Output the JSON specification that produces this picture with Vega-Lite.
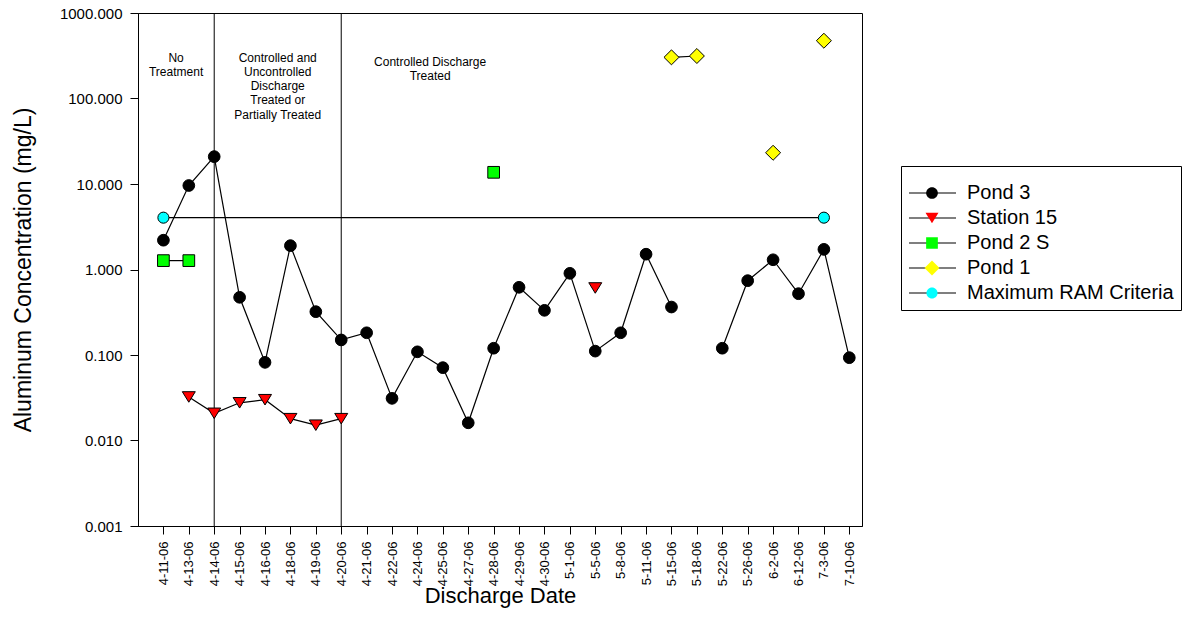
{
  "$schema": "https://vega.github.io/schema/vega-lite/v6.json",
  "width": 724,
  "height": 513,
  "autosize": {"type": "none"},
  "padding": {"left": 138, "top": 13, "right": 322, "bottom": 113},
  "background": "white",
  "config": {
    "font": "Liberation Sans",
    "view": {"stroke": "black", "strokeWidth": 1},
    "axis": {
      "grid": false,
      "domainColor": "black",
      "tickColor": "black",
      "labelColor": "black",
      "titleColor": "black",
      "titleFontWeight": "normal",
      "labelFont": "Liberation Sans",
      "titleFont": "Liberation Sans",
      "tickSize": 8
    },
    "legend": {
      "orient": "none",
      "legendX": 763,
      "legendY": 153,
      "strokeColor": "black",
      "fillColor": "transparent",
      "padding": 7,
      "labelFont": "Liberation Sans",
      "labelFontSize": 20,
      "labelColor": "black",
      "labelLimit": 400,
      "rowPadding": 5,
      "symbolSize": 137,
      "symbolStrokeColor": "black",
      "symbolStrokeWidth": 1,
      "symbolOffset": 14,
      "labelOffset": 25,
      "titleFontSize": 10,
      "titlePadding": 0,
      "clipHeight": 20
    }
  },
  "datasets": {
    "obs": [
      {"date": "4-11-06", "series": "Pond 3", "seg": "P3a", "value": 2.2},
      {"date": "4-13-06", "series": "Pond 3", "seg": "P3a", "value": 9.6},
      {"date": "4-14-06", "series": "Pond 3", "seg": "P3a", "value": 20.9},
      {"date": "4-15-06", "series": "Pond 3", "seg": "P3a", "value": 0.473},
      {"date": "4-16-06", "series": "Pond 3", "seg": "P3a", "value": 0.082},
      {"date": "4-18-06", "series": "Pond 3", "seg": "P3a", "value": 1.9},
      {"date": "4-19-06", "series": "Pond 3", "seg": "P3a", "value": 0.321},
      {"date": "4-20-06", "series": "Pond 3", "seg": "P3a", "value": 0.15},
      {"date": "4-21-06", "series": "Pond 3", "seg": "P3a", "value": 0.182},
      {"date": "4-22-06", "series": "Pond 3", "seg": "P3a", "value": 0.0311},
      {"date": "4-24-06", "series": "Pond 3", "seg": "P3a", "value": 0.109},
      {"date": "4-25-06", "series": "Pond 3", "seg": "P3a", "value": 0.0711},
      {"date": "4-27-06", "series": "Pond 3", "seg": "P3a", "value": 0.0161},
      {"date": "4-28-06", "series": "Pond 3", "seg": "P3a", "value": 0.12},
      {"date": "4-29-06", "series": "Pond 3", "seg": "P3a", "value": 0.619},
      {"date": "4-30-06", "series": "Pond 3", "seg": "P3a", "value": 0.333},
      {"date": "5-1-06", "series": "Pond 3", "seg": "P3a", "value": 0.902},
      {"date": "5-5-06", "series": "Pond 3", "seg": "P3a", "value": 0.111},
      {"date": "5-8-06", "series": "Pond 3", "seg": "P3a", "value": 0.182},
      {"date": "5-11-06", "series": "Pond 3", "seg": "P3a", "value": 1.51},
      {"date": "5-15-06", "series": "Pond 3", "seg": "P3a", "value": 0.364},
      {"date": "5-22-06", "series": "Pond 3", "seg": "P3b", "value": 0.12},
      {"date": "5-26-06", "series": "Pond 3", "seg": "P3b", "value": 0.74},
      {"date": "6-2-06", "series": "Pond 3", "seg": "P3b", "value": 1.3},
      {"date": "6-12-06", "series": "Pond 3", "seg": "P3b", "value": 0.521},
      {"date": "7-3-06", "series": "Pond 3", "seg": "P3b", "value": 1.72},
      {"date": "7-10-06", "series": "Pond 3", "seg": "P3b", "value": 0.093},
      {"date": "4-13-06", "series": "Station 15", "seg": "S15a", "value": 0.0323},
      {"date": "4-14-06", "series": "Station 15", "seg": "S15a", "value": 0.0208},
      {"date": "4-15-06", "series": "Station 15", "seg": "S15a", "value": 0.0276},
      {"date": "4-16-06", "series": "Station 15", "seg": "S15a", "value": 0.030},
      {"date": "4-18-06", "series": "Station 15", "seg": "S15a", "value": 0.018},
      {"date": "4-19-06", "series": "Station 15", "seg": "S15a", "value": 0.0151},
      {"date": "4-20-06", "series": "Station 15", "seg": "S15a", "value": 0.018},
      {"date": "5-5-06", "series": "Station 15", "seg": "S15b", "value": 0.608},
      {"date": "4-11-06", "series": "Pond 2 S", "seg": "P2a", "value": 1.27},
      {"date": "4-13-06", "series": "Pond 2 S", "seg": "P2a", "value": 1.27},
      {"date": "4-28-06", "series": "Pond 2 S", "seg": "P2b", "value": 13.7},
      {"date": "5-15-06", "series": "Pond 1", "seg": "P1a", "value": 303},
      {"date": "5-18-06", "series": "Pond 1", "seg": "P1a", "value": 314},
      {"date": "6-2-06", "series": "Pond 1", "seg": "P1b", "value": 23.2},
      {"date": "7-3-06", "series": "Pond 1", "seg": "P1c", "value": 474},
      {"date": "4-11-06", "series": "Maximum RAM Criteria", "seg": "RAM", "value": 4.04},
      {"date": "7-3-06", "series": "Maximum RAM Criteria", "seg": "RAM", "value": 4.04}
    ],
    "dividers": [
      {"date": "4-14-06"},
      {"date": "4-20-06"}
    ],
    "notes": [
      {"date": "4-11-06", "value": 345, "label": ["No", "Treatment"]},
      {"date": "4-16-06", "value": 345, "label": ["Controlled and", "Uncontrolled", "Discharge", "Treated or", "Partially Treated"]},
      {"date": "4-24-06", "value": 306, "label": ["Controlled Discharge", "Treated"]}
    ]
  },
  "layer": [
    {
      "data": {"name": "dividers"},
      "mark": {"type": "rule", "color": "black", "strokeWidth": 1},
      "encoding": {
        "x": {
          "field": "date",
          "type": "nominal",
          "sort": ["4-11-06","4-13-06","4-14-06","4-15-06","4-16-06","4-18-06","4-19-06","4-20-06","4-21-06","4-22-06","4-24-06","4-25-06","4-27-06","4-28-06","4-29-06","4-30-06","5-1-06","5-5-06","5-8-06","5-11-06","5-15-06","5-18-06","5-22-06","5-26-06","6-2-06","6-12-06","7-3-06","7-10-06"],
          "scale": {
            "type": "point",
            "domain": ["4-11-06","4-13-06","4-14-06","4-15-06","4-16-06","4-18-06","4-19-06","4-20-06","4-21-06","4-22-06","4-24-06","4-25-06","4-27-06","4-28-06","4-29-06","4-30-06","5-1-06","5-5-06","5-8-06","5-11-06","5-15-06","5-18-06","5-22-06","5-26-06","6-2-06","6-12-06","7-3-06","7-10-06"],
            "padding": 0.75,
            "align": 0.6667
          },
          "axis": {
            "title": "Discharge Date",
            "titleFontSize": 22,
            "titleY": 69,
            "titleBaseline": "middle",
            "labelAngle": -90,
            "labelFontSize": 13,
            "labelPadding": 7
          }
        }
      }
    },
    {
      "data": {"name": "notes"},
      "mark": {"type": "text", "dx": 12.7, "baseline": "top", "align": "center", "fontSize": 12, "lineHeight": 14.3, "color": "black", "font": "Liberation Sans"},
      "encoding": {
        "x": {"field": "date", "type": "nominal"},
        "y": {"field": "value", "type": "quantitative"},
        "text": {"field": "label"}
      }
    },
    {
      "data": {"name": "obs"},
      "mark": {"type": "line", "strokeWidth": 1.2},
      "encoding": {
        "x": {
          "field": "date",
          "type": "nominal",
          "sort": ["4-11-06","4-13-06","4-14-06","4-15-06","4-16-06","4-18-06","4-19-06","4-20-06","4-21-06","4-22-06","4-24-06","4-25-06","4-27-06","4-28-06","4-29-06","4-30-06","5-1-06","5-5-06","5-8-06","5-11-06","5-15-06","5-18-06","5-22-06","5-26-06","6-2-06","6-12-06","7-3-06","7-10-06"]
        },
        "y": {
          "field": "value",
          "type": "quantitative",
          "scale": {"type": "log", "domain": [0.001, 1000], "nice": false},
          "axis": {
            "values": [0.001, 0.01, 0.1, 1, 10, 100, 1000],
            "format": ".3f",
            "labelFontSize": 15,
            "labelPadding": 8,
            "title": "Aluminum Concentration (mg/L)",
            "titleFontSize": 23,
            "titleX": -115,
            "titleY": 256.5,
            "titleAngle": -90,
            "titleAlign": "center",
            "titleBaseline": "middle"
          }
        },
        "stroke": {
          "field": "series",
          "type": "nominal",
          "sort": ["Pond 3", "Station 15", "Pond 2 S", "Pond 1", "Maximum RAM Criteria"],
          "scale": {"range": ["black", "black", "black", "black", "black"]},
          "legend": {
            "title": " ",
            "labelOpacity": 0,
            "strokeColor": "transparent",
            "fillColor": "transparent",
            "symbolType": "stroke",
            "symbolSize": 2209,
            "symbolStrokeWidth": 1.2,
            "symbolStrokeColor": "black",
            "symbolOffset": 0,
            "labelOffset": 10,
            "clipHeight": 20
          }
        },
        "detail": {"field": "seg", "type": "nominal"}
      }
    },
    {
      "data": {"name": "obs"},
      "mark": {"type": "point", "filled": true, "stroke": "black", "strokeWidth": 1, "size": 137, "opacity": 1},
      "encoding": {
        "x": {"field": "date", "type": "nominal"},
        "y": {"field": "value", "type": "quantitative"},
        "shape": {
          "field": "series",
          "type": "nominal",
          "scale": {
            "domain": ["Pond 3", "Station 15", "Pond 2 S", "Pond 1", "Maximum RAM Criteria"],
            "range": [
              "M1,0A1,1 0 1,1 -1,0A1,1 0 1,1 1,0Z",
              "M-1.11,-0.9H1.11L0,0.9Z",
              "M-1,-1H1V1H-1Z",
              "M-1.28,0L0,-1.28L1.28,0L0,1.28Z",
              "M0.95,0A0.95,0.95 0 1,1 -0.95,0A0.95,0.95 0 1,1 0.95,0Z"
            ]
          },
          "legend": {"title": " ", "symbolStrokeColor": "black", "symbolStrokeWidth": 1, "clipHeight": 20}
        },
        "fill": {
          "field": "series",
          "type": "nominal",
          "scale": {
            "domain": ["Pond 3", "Station 15", "Pond 2 S", "Pond 1", "Maximum RAM Criteria"],
            "range": ["#000000", "#ff0000", "#00ff00", "#ffff00", "#00ffff"]
          },
          "legend": {"title": " ", "symbolStrokeColor": "black", "symbolStrokeWidth": 1, "clipHeight": 20}
        }
      }
    }
  ]
}
